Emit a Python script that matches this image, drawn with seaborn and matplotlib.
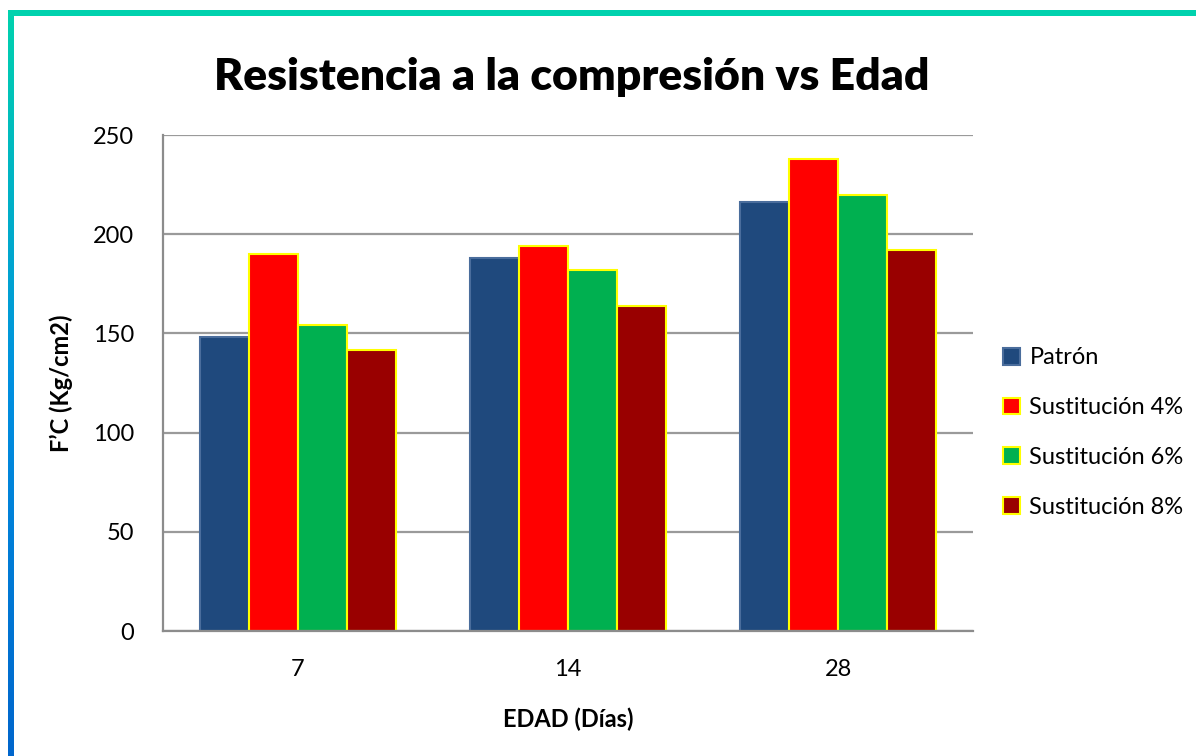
import numpy as np
import pandas as pd
import seaborn as sns
import matplotlib.pyplot as plt
from matplotlib.patches import Rectangle
from matplotlib.colors import LinearSegmentedColormap

sns.set_style("white")
plt.rcParams['font.family'] = ['Lato', 'DejaVu Sans']
plt.rcParams['text.color'] = 'black'
plt.rcParams['axes.labelcolor'] = 'black'

# data
edades = ['7', '14', '28']
series = ['Patrón', 'Sustitución 4%', 'Sustitución 6%', 'Sustitución 8%']
patron = [148, 188, 216]
sust4 = [190, 194, 238]
sust6 = [154, 182, 220]
sust8 = [141.5, 164, 192]

colores = ['#1F497D', '#FF0000', '#00B050', '#990000']
bordes = ['#4A6D9C', '#FFFF00', '#FFFF00', '#FFFF00']

df = pd.DataFrame({
    'edad': edades * 4,
    'serie': [s for s in series for _ in edades],
    'fc': patron + sust4 + sust6 + sust8,
})

fig = plt.figure(figsize=(11.96, 7.56), dpi=100)
ax = fig.add_axes([163/1196, 1 - 631/756, 810/1196, 496/756])

sns.barplot(data=df, x='edad', y='fc', hue='serie', palette=colores,
            width=0.727, saturation=1, ax=ax, legend=True)

for cont, ec in zip(ax.containers, bordes):
    for bar in cont:
        bar.set_edgecolor(ec)
        bar.set_linewidth(1.5)

ax.set_xlim(-0.5, 2.5)
ax.set_ylim(0, 250)
ax.set_yticks(range(0, 251, 50))
ax.yaxis.grid(True, color='#9A9A9A', linewidth=1.6)
ax.set_axisbelow(True)
for s in ['top', 'right']:
    ax.spines[s].set_visible(False)
for s in ['left', 'bottom']:
    ax.spines[s].set_color('#8C8C8C')
    ax.spines[s].set_linewidth(1.6)
ax.tick_params(axis='both', labelsize=17, length=0, colors='black')
ax.tick_params(axis='y', pad=21)
ax.tick_params(axis='x', pad=20)

ax.set_ylabel("F’C (Kg/cm2)", fontsize=17, fontweight='bold', labelpad=14)
ax.set_xlabel('EDAD (Días)', fontsize=17, fontweight='bold', labelpad=20)
fig.text(572/1196, 1 - 77/756, 'Resistencia a la compresión vs Edad',
         fontsize=32, fontweight='heavy', ha='center', va='center')

handles, labels = ax.get_legend_handles_labels()
leg = ax.legend(handles, labels, loc='center left', bbox_to_anchor=(1.037, 0.4),
                borderaxespad=0, borderpad=0, frameon=False, fontsize=17,
                handlelength=0.72, handleheight=0.72,
                handletextpad=0.4, labelspacing=1.22)
for h, ec in zip(leg.legend_handles, bordes):
    h.set_edgecolor(ec)
    h.set_linewidth(1.5)

# frame: teal top line, gradient left line
fig.patches.append(Rectangle((8/1196, 1 - 16/756), 1, 6/756, transform=fig.transFigure,
                             facecolor='#00D2AE', edgecolor='none', zorder=0))
gax = fig.add_axes([8/1196, 0, 6/1196, 1 - 10/756])
grad = np.linspace(0, 1, 256).reshape(-1, 1)
cmap = LinearSegmentedColormap.from_list('borde', ['#0066CC', '#0090E0', '#00D2AE'])
gax.imshow(grad, aspect='auto', cmap=cmap, origin='lower')
gax.axis('off')

fig.savefig('out.png', dpi=100)
